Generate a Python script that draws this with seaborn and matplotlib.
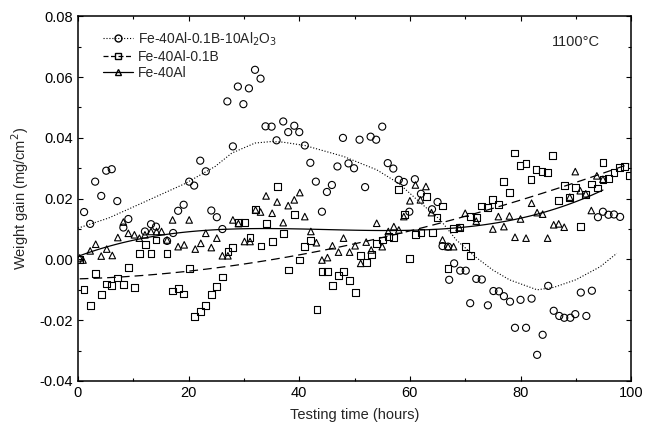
import numpy as np
import seaborn as sns
import matplotlib.pyplot as plt
from matplotlib.lines import Line2D
from matplotlib.ticker import MultipleLocator, FormatStrFormatter

sns.set_theme(style="ticks")
plt.rcParams["font.family"] = ["Liberation Sans", "DejaVu Sans"]
plt.rcParams["axes.unicode_minus"] = False

# Fe-40Al-0.1B-10Al2O3 (circles)
circ_h = [1.1, 2.2, 3.1, 4.2, 5.1, 6.1, 7.1, 8.2, 9.1, 12.1, 13.2, 14.1, 16.1, 17.2, 18.1,
          19.1, 20.1, 21.0, 22.1, 23.1, 24.1, 25.1, 26.1, 27.0, 28.0, 28.9, 29.9, 30.9, 32.0,
          33.0, 33.9, 35.0, 35.9, 37.1, 38.0, 39.1, 40.0, 41.0, 42.0, 43.0, 44.1, 45.0, 45.9,
          46.9, 47.9, 48.9, 49.9, 50.9, 51.9, 52.9, 53.9, 55.0, 56.0, 57.0, 58.0, 58.9, 59.9,
          60.9, 62.0, 64.0, 65.0, 65.9, 66.9, 67.1, 68.0, 69.1, 70.1, 70.9, 72.0, 73.0, 74.1,
          75.1, 76.1, 77.0, 78.1, 79.0, 80.0, 81.0, 82.0, 83.0, 84.0, 85.0, 86.0, 87.0, 87.9,
          89.0, 89.9, 90.9, 91.9, 92.9, 94.0, 94.9, 95.9, 96.9, 98.0]
circ_v = [0.0156, 0.0117, 0.0256, 0.0209, 0.0292, 0.0297, 0.0192, 0.0105, 0.0133, 0.0092,
          0.0116, 0.0108, 0.0061, 0.0087, 0.0160, 0.0180, 0.0256, 0.0243, 0.0325, 0.0290,
          0.0161, 0.0139, 0.0100, 0.0520, 0.0372, 0.0569, 0.0511, 0.0563, 0.0624, 0.0595,
          0.0438, 0.0437, 0.0392, 0.0454, 0.0419, 0.0440, 0.0419, 0.0375, 0.0318, 0.0256,
          0.0157, 0.0222, 0.0245, 0.0306, 0.0400, 0.0316, 0.0300, 0.0394, 0.0238, 0.0404,
          0.0394, 0.0437, 0.0317, 0.0299, 0.0262, 0.0255, 0.0157, 0.0264, 0.0216, 0.0165,
          0.0189, 0.0044, 0.0042, -0.0067, -0.0013, -0.0037, -0.0037, -0.0144, -0.0064,
          -0.0066, -0.0151, -0.0104, -0.0105, -0.0121, -0.0139, -0.0225, -0.0133, -0.0225,
          -0.0129, -0.0314, -0.0248, -0.0087, -0.0169, -0.0186, -0.0192, -0.0192, -0.0180,
          -0.0109, -0.0186, -0.0103, 0.0139, 0.0157, 0.0147, 0.0148, 0.0140]
# dotted trend line of the circles
circ_fit_h = [0, 5.5, 11.5, 19.4, 24.8, 27.8, 32, 35, 37, 41, 48, 54, 58, 62, 65.5, 68.4,
              71.8, 75, 78, 83, 86, 90, 94.4, 97.4]
circ_fit_v = [0.0103, 0.0136, 0.0185, 0.0250, 0.0306, 0.0350, 0.0383, 0.0388, 0.0386,
              0.0375, 0.0339, 0.0295, 0.0250, 0.0185, 0.0130, 0.0064, 0.0009, -0.0035,
              -0.0067, -0.0100, -0.0092, -0.0067, -0.0024, 0.0020]

# Fe-40Al-0.1B (squares)
sq_h = [0.3, 1.1, 2.2, 3.1, 4.2, 5.1, 6.1, 7.2, 8.2, 9.1, 10.2, 11.1, 12.2, 13.2, 14.1, 16.1,
        17.1, 18.1, 19.1, 20.1, 21.1, 22.1, 23.1, 24.1, 25.1, 26.1, 27.1, 28.0, 29.0, 30.1,
        31.1, 32.1, 33.1, 34.1, 35.2, 36.0, 37.1, 38.1, 39.1, 40.1, 41.0, 42.1, 43.2, 44.1,
        45.1, 46.0, 47.1, 48.0, 49.1, 50.2, 51.1, 52.2, 53.0, 54.0, 55.0, 56.1, 57.1, 58.0,
        59.0, 60.0, 61.0, 62.0, 63.0, 64.1, 64.9, 65.9, 66.9, 67.9, 69.0, 70.1, 71.0, 71.0,
        72.0, 73.0, 74.0, 75.0, 76.0, 76.9, 78.0, 78.9, 79.9, 81.0, 81.9, 82.8, 83.9, 84.9,
        85.8, 86.9, 87.9, 88.8, 89.9, 90.8, 91.8, 92.9, 93.9, 94.9, 94.9, 95.9, 96.9, 97.9,
        98.8, 99.7]
sq_v = [0.0000, -0.0098, -0.0152, -0.0045, -0.0116, -0.0081, -0.0086, -0.0061, -0.0082,
        -0.0026, -0.0093, 0.0020, 0.0050, 0.0020, 0.0064, 0.0020, -0.0104, -0.0096, -0.0114,
        -0.0030, -0.0188, -0.0172, -0.0151, -0.0115, -0.0090, -0.0058, 0.0025, 0.0040,
        0.0121, 0.0122, 0.0073, 0.0165, 0.0044, 0.0119, 0.0058, 0.0240, 0.0086, -0.0035,
        0.0147, -0.0002, 0.0042, 0.0061, -0.0164, -0.0040, -0.0040, -0.0086, -0.0053,
        -0.0040, -0.0070, -0.0108, 0.0013, -0.0011, 0.0015, 0.0053, 0.0064, 0.0075, 0.0073,
        0.0231, 0.0149, 0.0004, 0.0083, 0.0088, 0.0207, 0.0088, 0.0139, 0.0176, -0.0029,
        0.0103, 0.0106, 0.0042, 0.0012, 0.0141, 0.0139, 0.0176, 0.0171, 0.0196, 0.0180,
        0.0256, 0.0220, 0.0350, 0.0310, 0.0317, 0.0262, 0.0297, 0.0290, 0.0287, 0.0341,
        0.0194, 0.0244, 0.0204, 0.0238, 0.0108, 0.0213, 0.0248, 0.0235, 0.0320, 0.0262,
        0.0267, 0.0287, 0.0302, 0.0306, 0.0275]

# Fe-40Al (triangles)
tri_h = [0.3, 0.9, 2.2, 3.2, 4.2, 5.2, 6.2, 7.2, 8.2, 9.1, 10.2, 11.1, 12.1, 13.2, 14.2, 15.1,
         16.1, 17.1, 18.1, 19.2, 20.1, 21.2, 22.2, 23.1, 24.1, 25.1, 26.1, 27.1, 28.0, 29.0,
         30.1, 31.1, 32.1, 33.0, 34.0, 35.1, 36.0, 37.1, 38.0, 39.1, 40.1, 41.0, 42.1, 43.1,
         44.1, 45.1, 46.0, 47.1, 48.0, 49.1, 50.1, 51.1, 52.1, 53.0, 54.0, 55.0, 56.1, 57.1,
         58.0, 58.9, 60.0, 61.0, 61.9, 62.9, 63.9, 65.9, 66.9, 67.9, 68.9, 70.0, 72.0, 75.0,
         76.0, 77.0, 78.0, 79.0, 80.0, 81.0, 82.0, 83.0, 84.0, 84.9, 86.0, 86.9, 87.9, 88.9,
         89.9, 90.8, 91.8, 92.8, 93.8, 94.9]
tri_v = [0.0005, -0.0002, 0.0028, 0.0050, 0.0011, 0.0034, 0.0013, 0.0072, 0.0123, 0.0086,
         0.0081, 0.0070, 0.0081, 0.0092, 0.0092, 0.0092, 0.0064, 0.0130, 0.0042, 0.0048,
         0.0130, 0.0034, 0.0053, 0.0086, 0.0039, 0.0070, 0.0012, 0.0012, 0.0130, 0.0118,
         0.0059, 0.0059, 0.0163, 0.0156, 0.0209, 0.0152, 0.0189, 0.0121, 0.0177, 0.0196,
         0.0220, 0.0141, 0.0092, 0.0055, -0.0002, 0.0006, 0.0045, 0.0024, 0.0070, 0.0024,
         0.0045, -0.0013, 0.0057, 0.0031, 0.0119, 0.0042, 0.0092, 0.0108, 0.0097, 0.0141,
         0.0193, 0.0245, 0.0196, 0.0240, 0.0154, 0.0064, 0.0042, 0.0042, 0.0105, 0.0152,
         0.0126, 0.0100, 0.0141, 0.0108, 0.0143, 0.0073, 0.0133, 0.0070, 0.0185, 0.0154,
         0.0149, 0.0070, 0.0114, 0.0117, 0.0106, 0.0205, 0.0289, 0.0226, 0.0216, 0.0161,
         0.0275, 0.0264]

labels = ["Fe-40Al-0.1B-10Al$_2$O$_3$", "Fe-40Al-0.1B", "Fe-40Al"]

fig, ax = plt.subplots(figsize=(6.5, 4.3), dpi=100)
fig.subplots_adjust(left=0.12, right=0.971, top=0.962, bottom=0.114)

hollow = dict(facecolors="none", edgecolors="black", linewidths=0.8, alpha=1)

# circles + read-off dotted trend
sns.scatterplot(x=circ_h, y=circ_v, ax=ax, marker="o", s=26, **hollow)
sns.lineplot(x=circ_fit_h, y=circ_fit_v, ax=ax, color="black", ls=":", lw=0.8)

# squares / triangles with cubic trend lines
for h, v, mk, ls, size in [(sq_h, sq_v, "s", (0, (7, 4)), 24),
                           (tri_h, tri_v, "^", "-", 22)]:
    sns.regplot(x=np.array(h), y=np.array(v), ax=ax, order=3, ci=None,
                color="black", marker=mk,
                scatter_kws=dict(s=size, **hollow),
                line_kws=dict(ls=ls, lw=0.9))

ax.set_xlim(0, 100)
ax.set_ylim(-0.04, 0.08)
ax.xaxis.set_major_locator(MultipleLocator(20))
ax.xaxis.set_minor_locator(MultipleLocator(10))
ax.yaxis.set_major_locator(MultipleLocator(0.02))
ax.yaxis.set_minor_locator(MultipleLocator(0.01))
ax.yaxis.set_major_formatter(FormatStrFormatter("%.2f"))
ax.tick_params(which="both", direction="in", top=True, right=True, colors="black",
               labelsize=10.5, width=0.8)
ax.tick_params(which="major", length=3.5)
ax.tick_params(which="minor", length=2)
for sp in ax.spines.values():
    sp.set_color("black")
    sp.set_linewidth(1.1)

ax.set_xlabel("Testing time (hours)", fontsize=10.5, labelpad=6)
ax.set_ylabel("Weight gain (mg/cm$^2$)", fontsize=10.5, labelpad=6)
ax.text(0.90, 0.93, "1100°C", transform=ax.transAxes, ha="center", va="center",
        fontsize=10.5)

handles = [
    Line2D([], [], color="black", ls=":", lw=0.8, marker="o", ms=5,
           mfc="none", mec="black", label=labels[0]),
    Line2D([], [], color="black", ls=(0, (4, 2)), lw=0.9, marker="s", ms=5,
           mfc="none", mec="black", label=labels[1]),
    Line2D([], [], color="black", ls="-", lw=0.9, marker="^", ms=5,
           mfc="none", mec="black", label=labels[2]),
]
ax.legend(handles=handles, loc="upper left", bbox_to_anchor=(0.03, 0.985),
          frameon=False, fontsize=10, handlelength=2.2, handletextpad=0.3,
          labelspacing=0.15, borderaxespad=0.2)

fig.savefig("out.png", dpi=100)
